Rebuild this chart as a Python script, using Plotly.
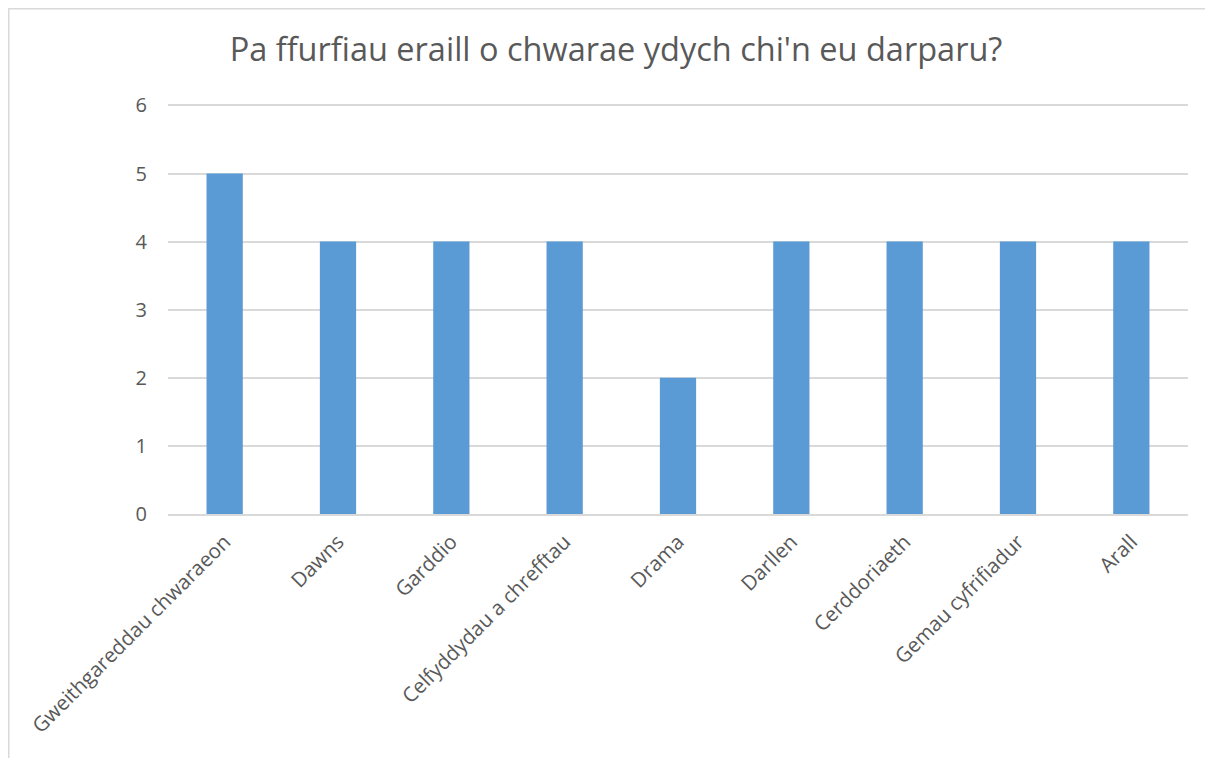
import plotly.graph_objects as go

categories = ["Gweithgareddau chwaraeon", "Dawns", "Garddio", "Celfyddydau a chrefftau",
              "Drama", "Darllen", "Cerddoriaeth", "Gemau cyfrifiadur", "Arall"]
values = [5, 4, 4, 4, 2, 4, 4, 4, 4]
y_ticks = [0, 1, 2, 3, 4, 5, 6]
title_text = "Pa ffurfiau eraill o chwarae ydych chi'n eu darparu?"

# figure is placed with an 8px page margin
W, H = 1205, 750
L, R, T, B = 160, 25, 94, 244
PW, PH = W - L - R, H - T - B

fig = go.Figure(go.Bar(x=categories, y=values, marker=dict(color="#5b9bd5", line=dict(width=0))))

FONT = "Open Sans, sans-serif"
fig.update_layout(
    width=W, height=H,
    margin=dict(l=L, r=R, t=T, b=B, autoexpand=False),
    paper_bgcolor="white", plot_bgcolor="white",
    bargap=0.68,
    showlegend=False,
    font=dict(family=FONT, color="#595959"),
    title=dict(text=title_text, x=608 / W, xanchor="center", y=1 - 42 / H, yanchor="middle",
               xref="container", yref="container",
               font=dict(size=32.5, color="#595959", family=FONT)),
)
fig.update_xaxes(tickangle=-45, tickfont=dict(size=20.5, color="#595959"),
                 showline=True, linecolor="#d9d9d9", linewidth=1.5,
                 ticks="", ticklabelstandoff=6)
fig.update_yaxes(range=[0, 6.05], tickvals=y_ticks, tickfont=dict(size=20, color="#595959"),
                 showgrid=True, gridcolor="#d9d9d9", gridwidth=1.5, zeroline=False,
                 showline=False, ticks="", ticklabelstandoff=20)

# chart border (extends past right/bottom edge as in reference)
x0 = (0.75 - L) / PW
x1 = (W + 20 - L) / PW
y1 = 1 + (T - 0.75) / PH
y0 = -(B + 20) / PH
fig.add_shape(type="rect", xref="paper", yref="paper", x0=x0, x1=x1, y0=y0, y1=y1,
              line=dict(color="#d9d9d9", width=1.5), fillcolor="rgba(0,0,0,0)", layer="below")

fig.write_html("out.html")
